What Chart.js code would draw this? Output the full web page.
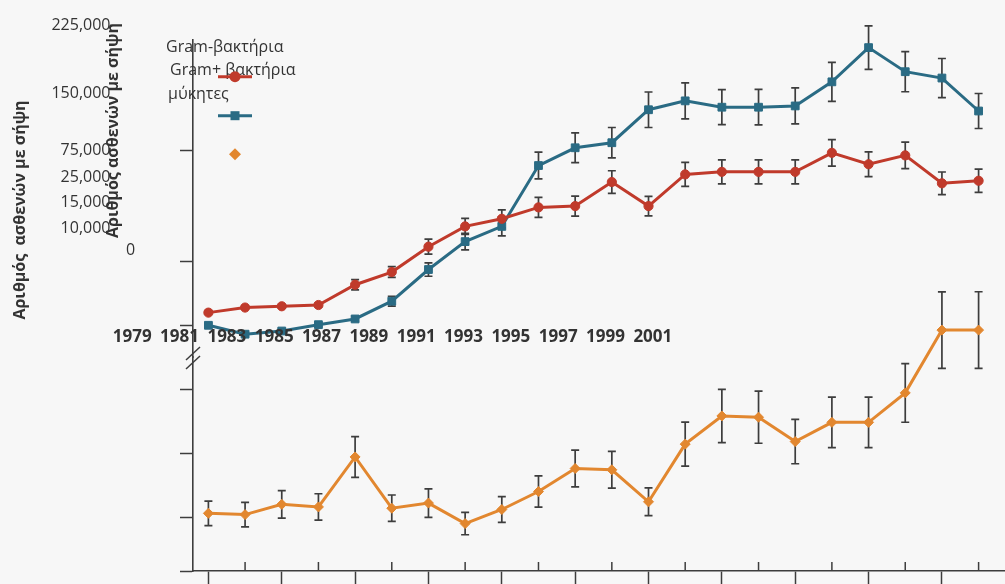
<!DOCTYPE html>
<html>
<head>
<meta charset="utf-8">
<script src="https://cdn.jsdelivr.net/npm/chart.js@4.4.1/dist/chart.umd.min.js"></script>
<style>
  html, body { margin: 0; padding: 0; background: #f7f7f7; }
  #wrap { position: relative; width: 1005px; height: 584px; }
</style>
</head>
<body>
<div id="wrap"><canvas id="sepsisChart" width="1005" height="584"></canvas></div>
<script>
// sepsis cases per year by organism, 1979-2000
const years = [1979, 1980, 1981, 1982, 1983, 1984, 1985, 1986, 1987, 1988, 1989,
               1990, 1991, 1992, 1993, 1994, 1995, 1996, 1997, 1998, 1999, 2000];

const gramNeg = [35000, 39000, 40000, 41000, 57000, 67000, 87000, 103000, 109000, 118000, 119000,
                 138000, 119000, 144000, 146000, 146000, 146000, 161000, 152000, 159000, 137000, 139000];
const gramNegErr = [1200, 1300, 1400, 1500, 4000, 4200, 5900, 6300, 7100, 7900, 7900,
                    8900, 7700, 9500, 9500, 9500, 9500, 10400, 9700, 10400, 8900, 9100];

const gramPos = [25000, 18000, 20500, 25500, 30000, 44000, 69000, 91000, 103000, 151000, 165000,
                 169000, 195000, 202000, 197000, 197000, 198000, 217000, 244000, 225000, 220000, 194000];
const gramPosErr = [1500, 1500, 1500, 1500, 1800, 3900, 5300, 6500, 7500, 10600, 11700,
                    12000, 14000, 14200, 13800, 14000, 14200, 15400, 17100, 15800, 15400, 13800];

const fungi = [5300, 5200, 6000, 5800, 9700, 5700, 6100, 4500, 5600, 7000, 8800,
               8700, 6200, 10700, 12900, 12800, 10900, 12400, 12400, 14700, 19600, 19600];
const fungiErr = [960, 950, 1070, 1030, 1590, 1030, 1110, 870, 1010, 1220, 1440,
                  1430, 1080, 1720, 2080, 2030, 1730, 1970, 1970, 2290, 2980, 2990];

const seriesNames = ["Gram-βακτήρια", "Gram+ βακτήρια", "μύκητες"];
const valueLabels = ["225,000", "150,000", "75,000", "25,000", "15,000", "10,000", "0"];
const yearLabels = ["1979", "1981", "1983", "1985", "1987", "1989", "1991", "1993", "1995", "1997", "1999", "2001"];
const bactTicks = [25000, 75000, 162500];
const fungiTicks = [800, 5000, 10000, 15000];
const yTitle = "Αριθμός ασθενών με σήψη";
const yTitle2 = "Αριθμός  ασθενών με σήψη";

const RED = "#c03a2b";
const BLUE = "#2a6b84";
const ORANGE = "#e2872f";
const AXIS = "#3d3d3d";
const TEXT = "#333333";
const FONT = '"Open Sans", "Noto Sans", sans-serif';

const toPoints = (vals) => vals.map((v, i) => ({ x: years[i], y: v }));

// vertical error bars with caps, drawn under the markers
const errorBars = {
  id: "errorBars",
  beforeDatasetsDraw(chart) {
    const ctx = chart.ctx;
    ctx.save();
    ctx.strokeStyle = AXIS;
    ctx.lineWidth = 1.7;
    chart.data.datasets.forEach((ds, di) => {
      const meta = chart.getDatasetMeta(di);
      const yScale = chart.scales[ds.yAxisID];
      meta.data.forEach((pt, i) => {
        const v = ds.data[i].y;
        const e = ds.errors[i];
        const top = yScale.getPixelForValue(v + e);
        const bot = yScale.getPixelForValue(v - e);
        ctx.beginPath();
        ctx.moveTo(pt.x, top); ctx.lineTo(pt.x, bot);
        ctx.moveTo(pt.x - 4, top); ctx.lineTo(pt.x + 4, top);
        ctx.moveTo(pt.x - 4, bot); ctx.lineTo(pt.x + 4, bot);
        ctx.stroke();
      });
    });
    ctx.restore();
  }
};

function strokeLine(ctx, x1, y1, x2, y2) {
  ctx.beginPath();
  ctx.moveTo(x1, y1);
  ctx.lineTo(x2, y2);
  ctx.stroke();
}

// inward ticks, axis break, loose labels, titles and the legend
const decorations = {
  id: "decorations",
  afterDraw(chart) {
    const { ctx, chartArea, scales } = chart;
    const left = chartArea.left;
    const bottom = chartArea.bottom;
    const split = scales.yBact.bottom;

    ctx.save();
    ctx.strokeStyle = AXIS;
    ctx.lineWidth = 1.5;
    years.forEach((yr) => {
      if (yr % 2 === 0) {
        const px = scales.x.getPixelForValue(yr);
        strokeLine(ctx, px, bottom, px, bottom - 9);
      }
    });
    strokeLine(ctx, left - 7, split + 3, left + 7, split - 10);
    strokeLine(ctx, left - 7, split + 12, left + 7, split - 1);

    ctx.fillStyle = TEXT;
    ctx.textBaseline = "alphabetic";

    // value labels stacked on the left
    const labelBase = [30, 98, 155, 182, 207, 233, 255];
    ctx.font = "16px " + FONT;
    valueLabels.forEach((txt, i) => {
      if (txt === "0") {
        ctx.textAlign = "left";
        ctx.fillText(txt, 126, labelBase[i]);
      } else {
        ctx.textAlign = "right";
        ctx.fillText(txt, 110.5, labelBase[i]);
      }
    });

    // year row
    ctx.font = "bold 17px " + FONT;
    ctx.textAlign = "center";
    yearLabels.forEach((txt, i) => {
      ctx.fillText(txt, 132.2 + 47.33 * i, 341.5);
    });

    // rotated titles
    ctx.font = "bold 16px " + FONT;
    ctx.save();
    ctx.translate(118, 130.5);
    ctx.rotate(-Math.PI / 2);
    ctx.fillText(yTitle, 0, 0);
    ctx.restore();
    ctx.save();
    ctx.translate(25, 210);
    ctx.rotate(-Math.PI / 2);
    ctx.fillText(yTitle2, 0, 0);
    ctx.restore();

    // legend text
    ctx.font = "16px " + FONT;
    ctx.textAlign = "left";
    ctx.fillText(seriesNames[0], 166, 52);
    ctx.fillText(seriesNames[1], 170, 75);
    ctx.fillText(seriesNames[2], 168, 99);

    // legend markers
    ctx.lineWidth = 3;
    ctx.strokeStyle = RED;
    strokeLine(ctx, 218, 76.7, 252, 76.7);
    ctx.fillStyle = RED;
    ctx.beginPath();
    ctx.arc(235, 76.7, 5.5, 0, Math.PI * 2);
    ctx.fill();

    ctx.strokeStyle = BLUE;
    strokeLine(ctx, 218, 115.7, 252, 115.7);
    ctx.fillStyle = BLUE;
    ctx.fillRect(230.5, 111.2, 9, 9);

    ctx.fillStyle = ORANGE;
    ctx.beginPath();
    ctx.moveTo(235, 148.3);
    ctx.lineTo(241, 154.3);
    ctx.lineTo(235, 160.3);
    ctx.lineTo(229, 154.3);
    ctx.closePath();
    ctx.fill();

    ctx.restore();
  }
};

const ctx = document.getElementById("sepsisChart").getContext("2d");
new Chart(ctx, {
  type: "line",
  data: {
    datasets: [
      {
        label: seriesNames[0],
        data: toPoints(gramNeg),
        errors: gramNegErr,
        yAxisID: "yBact",
        borderColor: RED,
        backgroundColor: RED,
        borderWidth: 3,
        pointStyle: "circle",
        pointRadius: 4.6,
        pointBorderWidth: 1,
        clip: false
      },
      {
        label: seriesNames[1],
        data: toPoints(gramPos),
        errors: gramPosErr,
        yAxisID: "yBact",
        borderColor: BLUE,
        backgroundColor: BLUE,
        borderWidth: 3,
        pointStyle: "rect",
        pointRadius: 5.5,
        pointBorderWidth: 1,
        clip: false
      },
      {
        label: seriesNames[2],
        data: toPoints(fungi),
        errors: fungiErr,
        yAxisID: "yFungi",
        borderColor: ORANGE,
        backgroundColor: ORANGE,
        borderWidth: 3,
        pointStyle: "rectRot",
        pointRadius: 5,
        pointBorderWidth: 1,
        clip: false
      }
    ]
  },
  options: {
    responsive: false,
    animation: false,
    layout: { autoPadding: false, padding: { left: 180, top: 40, right: 0, bottom: 0 } },
    plugins: {
      legend: { display: false },
      tooltip: { enabled: false }
    },
    scales: {
      x: {
        type: "linear",
        min: 1978.58,
        max: 2000.72,
        afterBuildTicks: (scale) => {
          scale.ticks = years.map((yr) => ({ value: yr }));
        },
        ticks: { display: false },
        grid: {
          drawOnChartArea: false,
          tickLength: 13,
          tickWidth: 1.5,
          tickColor: (c) => (c.tick && c.tick.value % 2 === 1 ? AXIS : "rgba(0,0,0,0)")
        },
        border: { color: AXIS, width: 1.6 }
      },
      yBact: {
        type: "linear",
        position: "left",
        stack: "panels",
        stackWeight: 317,
        weight: 1,
        min: 0,
        max: 250000,
        afterBuildTicks: (scale) => {
          scale.ticks = bactTicks.map((v) => ({ value: v }));
        },
        ticks: { display: false },
        grid: { drawOnChartArea: false, tickLength: 13, tickWidth: 1.5, tickColor: AXIS },
        border: { color: AXIS, width: 1.6 }
      },
      yFungi: {
        type: "linear",
        position: "left",
        stack: "panels",
        stackWeight: 214,
        weight: 0,
        min: 800,
        max: 17500,
        afterBuildTicks: (scale) => {
          scale.ticks = fungiTicks.map((v) => ({ value: v }));
        },
        ticks: { display: false },
        grid: { drawOnChartArea: false, tickLength: 13, tickWidth: 1.5, tickColor: AXIS },
        border: { color: AXIS, width: 1.6 }
      }
    }
  },
  plugins: [errorBars, decorations]
});
</script>
</body>
</html>
